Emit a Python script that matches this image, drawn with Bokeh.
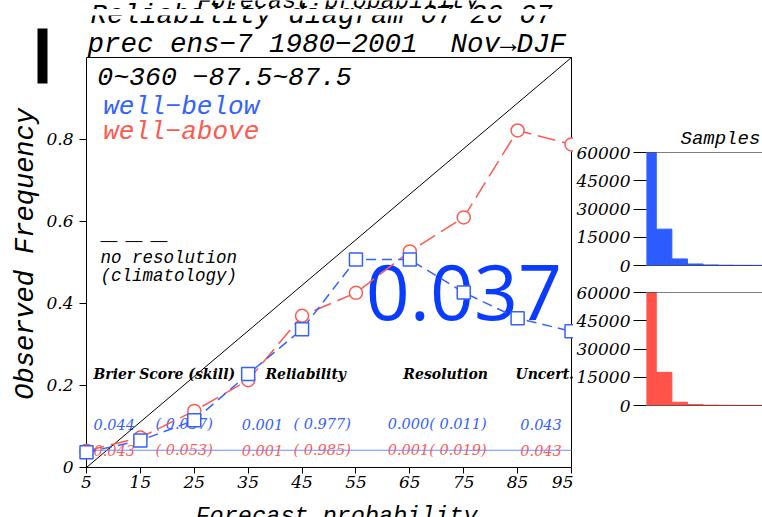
import math
from bokeh.plotting import figure
from bokeh.models import Span, BoxAnnotation, FixedTicker, Range1d, Title
from bokeh.layouts import row, column
from bokeh.core.properties import value
from bokeh.embed import file_html
from bokeh.resources import INLINE

# ---------------- data ----------------
prob = [5, 15, 25, 35, 45, 55, 65, 75, 85, 95]
well_below = [0.037, 0.066, 0.115, 0.228, 0.337, 0.507, 0.507, 0.427, 0.364, 0.332]
well_above = [0.041, 0.073, 0.138, 0.213, 0.370, 0.426, 0.527, 0.610, 0.822, 0.788]
climatology = 0.042
samples_below = [72000, 19300, 3500, 800, 300, 150, 100, 80, 60, 40]
samples_above = [72000, 17600, 1750, 500, 200, 120, 90, 70, 50, 30]
x_ticks = [5, 15, 25, 35, 45, 55, 65, 75, 85, 95]
y_ticks = [0, 0.2, 0.4, 0.6, 0.8]
y_tick_labels = ["0", "0.2", "0.4", "0.6", "0.8"]
hist_ticks = [0, 15000, 30000, 45000, 60000]
score_header = ["Brier Score (skill)", "Reliability", "Resolution", "Uncert."]
score_below = ["0.044", "( 0.037)", "0.001", "( 0.977)", "0.000( 0.011)", "0.043"]
score_above = ["0.043", "( 0.053)", "0.001", "( 0.985)", "0.001( 0.019)", "0.043"]
highlight = "0.037"

BLUE = "#3462ff"
RED = "#ff5a50"
FONT = "DejaVu Serif"
MONO = "Liberation Mono"

X0, X1 = x_ticks[0], x_ticks[-1]   # diagram box 5..95
Y0, Y1 = 0.0, 1.0                  # diagram box 0..1

# ---------------- main reliability plot ----------------
# the frame covers the whole canvas; the axes are drawn at fixed locations inside it
p = figure(width=573, height=517, x_range=Range1d(-10.959, 95.371), y_range=Range1d(-0.122, 1.139),
           output_backend="svg", toolbar_location=None,
           min_border=0, min_border_left=0, min_border_right=0, min_border_top=0, min_border_bottom=0)
p.grid.visible = False
p.outline_line_color = None
p.background_fill_color = "white"
p.border_fill_color = "white"

p.xaxis.fixed_location = Y0
p.yaxis.fixed_location = X0
p.xaxis.ticker = FixedTicker(ticks=x_ticks)
p.yaxis.ticker = FixedTicker(ticks=y_ticks)
p.yaxis.major_label_overrides = {t: l for t, l in zip(y_ticks, y_tick_labels)}
for ax in (p.xaxis, p.yaxis):
    ax.major_label_text_font = FONT
    ax.major_label_text_font_style = "italic"
    ax.major_label_text_font_size = "17px"
    ax.major_label_text_color = "black"
    ax.axis_line_color = None
    ax.major_tick_line_color = "black"
    ax.minor_tick_line_color = None
    ax.major_tick_in = 0
p.xaxis.major_tick_out = 6
p.xaxis.major_label_standoff = 3
p.yaxis.major_tick_out = 7
p.yaxis.major_label_standoff = 6

def ptext(x, y, t, color="black", size="14px", style="italic", font=FONT, align="left", angle=0.0):
    p.text(x=[x], y=[y], text=[t], text_font=value(font), text_font_style=style, angle=angle,
           text_font_size=size, text_color=color, text_baseline="alphabetic", text_align=align)

# big highlighted value (beneath the lines)
p.text(x=[56.8], y=[0.428], text=[highlight], text_font=value("Open Sans"),
       text_font_size="77px", text_color="#0a3cff", text_baseline="alphabetic")

# titles, axis titles and in-box annotations
ptext(25.6, 1.1366, "Forecast probability", size="23.5px", font=MONO)
ptext(5.74, 1.1030, "Reliability diagram  07 20 07", size="27.5px", font=MONO)
p.add_layout(BoxAnnotation(left=3.9, right=95.371, bottom=1.1024, top=1.1183,
                           fill_color="white", fill_alpha=1, line_color=None))
ptext(5.19, 1.032, "prec ens−7 1980−2001\u00a0\u00a0Nov→DJF", size="27.5px", font=MONO)
ptext(51.4, -0.120, "Forecast probability", size="23.5px", font=MONO, align="center")
ptext(-6.3, 0.521, "Observed Frequency", size="27px", font=MONO, align="center", angle=math.pi / 2)
p.add_layout(BoxAnnotation(left=-4.093, right=-2.237, bottom=0.9366, top=1.0707,
                           fill_color="black", fill_alpha=1, line_color=None))

ptext(7.0, 0.950, "0~360 −87.5~87.5", size="26.5px", font=MONO)
ptext(8.1, 0.879, "well−below", color=BLUE, size="26px", font=MONO)
ptext(8.1, 0.818, "well−above", color=RED, size="26px", font=MONO)
ptext(7.6, 0.510, "no resolution", size="17.5px", font=MONO)
ptext(7.6, 0.467, "(climatology)", size="17.5px", font=MONO)
p.line(x=[7.6, 20.6], y=[0.551, 0.551], line_color="black", line_width=1, line_dash="17 8")

hx = [6.3, 38.2, 63.8, 84.6]
for x, t in zip(hx, score_header):
    ptext(x, 0.228, t, size="14px", style="bold italic")
vx = [6.3, 17.8, 33.8, 43.4, 60.9, 85.5]
for x, t in zip(vx, score_below):
    ptext(x, 0.106, t, color=BLUE, size="14.5px")
for x, t in zip(vx, score_above):
    ptext(x, 0.042, t, color=RED, size="14.5px")

# diagram box and perfect-reliability diagonal
p.line(x=[X0, X1, X1, X0, X0], y=[Y0, Y0, Y1, Y1, Y0], line_color="black", line_width=1)
p.line(x=[X0, X1], y=[Y0, Y1], line_color="black", line_width=1)
# climatology line
p.line(x=[X0, X1], y=[climatology, climatology], line_color="#6a8cff", line_width=1.2)

# series
p.line(prob, well_above, line_color=RED, line_width=1.5, line_dash="18 7")
p.scatter(prob, well_above, marker="circle", size=13, line_color=RED, line_width=1.5, fill_color="white")
p.line(prob, well_below, line_color=BLUE, line_width=1.5, line_dash="10 6")
p.scatter(prob, well_below, marker="square", size=13, line_color=BLUE, line_width=1.5, fill_color="white")

# ---------------- sample histograms ----------------
def hist(counts, color, height, top, bottom, title=None):
    h = figure(width=189, height=height, x_range=Range1d(3.75, 78.1), y_range=Range1d(0, 60000),
               output_backend="svg", toolbar_location=None,
               min_border_left=70, min_border_right=0, min_border_top=top, min_border_bottom=bottom)
    h.grid.visible = False
    h.outline_line_color = None
    h.xaxis.visible = False
    h.yaxis.ticker = FixedTicker(ticks=hist_ticks)
    h.yaxis.major_label_text_font = FONT
    h.yaxis.major_label_text_font_style = "italic"
    h.yaxis.major_label_text_font_size = "17px"
    h.yaxis.major_label_text_color = "black"
    h.yaxis.axis_line_color = None
    h.yaxis.major_tick_line_color = "black"
    h.yaxis.major_tick_in = 0
    h.yaxis.major_tick_out = 13
    h.yaxis.major_label_standoff = 3
    h.yaxis.minor_tick_line_color = None
    h.vbar(x=prob, top=counts, width=10, fill_color=color, line_color=color)
    h.add_layout(Span(location=0, dimension="width", line_color="black", line_width=1))
    h.add_layout(Span(location=60000, dimension="width", line_color="black", line_width=1))
    if title:
        h.add_layout(Title(text=title, align="left", offset=34, standoff=6, text_font=MONO,
                           text_font_style="italic", text_font_size="19px", text_color="black"),
                     "above")
    return h

h1 = hist(samples_below, "#2c5cff", 278, 152, 13, "Samples")
h2 = hist(samples_above, "#ff5248", 147, 14, 20)

layout = row(p, column(h1, h2))
open("out.html", "w").write(file_html(layout, INLINE))
